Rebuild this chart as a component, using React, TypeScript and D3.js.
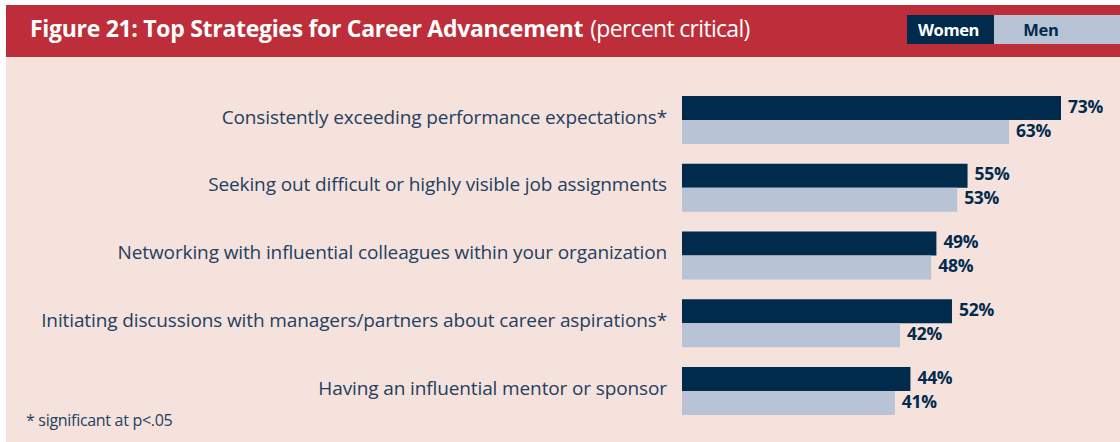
import React from "react";
import * as d3 from "d3";

const categories = [
  "Consistently exceeding performance expectations*",
  "Seeking out difficult or highly visible job assignments",
  "Networking with influential colleagues within your organization",
  "Initiating discussions with managers/partners about career aspirations*",
  "Having an influential mentor or sponsor",
];
const women = [73, 55, 49, 52, 44];
const men = [63, 53, 48, 42, 41];
const seriesNames = ["Women", "Men"];

const W = 1120;
const H = 442;
const RED = "#BE2E3A";
const BG = "#F6E2DD";
const NAVY = "#002B4C";
const LIGHT = "#B8C3D5";
const TEXT = "#22405F";
const FONT = "'Open Sans', 'Noto Sans', sans-serif";

export default function App() {
  const x = d3.scaleLinear().domain([0, 73]).range([682, 1061]);
  const yp = d3.scalePoint().domain(categories).range([96, 367]);
  const barH = 24;

  return (
    <svg
      width={W}
      height={H}
      style={{ position: "absolute", left: 0, top: 0, display: "block" }}
      fontFamily={FONT}
    >
      <rect x={0} y={0} width={W} height={H} fill="#ffffff" />
      <rect x={6} y={57} width={W - 6} height={H - 57} fill={BG} />
      <rect x={6} y={5} width={W - 6} height={52} fill={RED} />
      <text x={30} y={37} fill="#ffffff" fontSize={23}>
        <tspan fontWeight="bold" style={{ letterSpacing: "-0.3px" }}>
          Figure 21: Top Strategies for Career Advancement
        </tspan>
        <tspan dx={7} fontWeight="normal" style={{ letterSpacing: "-0.7px" }}>
          (percent critical)
        </tspan>
      </text>
      {/* legend */}
      <rect x={907} y={15} width={87} height={29} fill={NAVY} />
      <rect x={994} y={15} width={W - 994} height={29} fill={LIGHT} />
      <text x={948.5} y={35.5} textAnchor="middle" fill="#ffffff" fontWeight="bold" fontSize={16.5} style={{ letterSpacing: "-0.4px" }}>
        {seriesNames[0]}
      </text>
      <text x={1041} y={35.5} textAnchor="middle" fill={NAVY} fontWeight="bold" fontSize={16.5} style={{ letterSpacing: "-0.3px" }}>
        {seriesNames[1]}
      </text>

      {categories.map((c, i) => {
        const top = yp(c)!;
        return (
          <g key={c}>
            <text
              x={667}
              y={top + barH - 3}
              dy="0.35em"
              textAnchor="end"
              fill={TEXT}
              fontSize={19}
              style={{ letterSpacing: "-0.12px" }}
            >
              {c}
            </text>
            <rect x={x(0)} y={top} width={x(women[i]) - x(0)} height={barH} fill={NAVY} />
            <rect x={x(0)} y={top + barH} width={x(men[i]) - x(0)} height={barH} fill={LIGHT} />
            <text
              x={x(women[i]) + 7}
              y={top + barH / 2 - 1.5}
              dy="0.35em"
              fill={NAVY}
              fontWeight="bold"
              fontSize={17.5}
              style={{ letterSpacing: "-0.3px" }}
            >
              {women[i]}%
            </text>
            <text
              x={x(men[i]) + 7}
              y={top + barH * 1.5 - 1.5}
              dy="0.35em"
              fill={NAVY}
              fontWeight="bold"
              fontSize={17.5}
              style={{ letterSpacing: "-0.3px" }}
            >
              {men[i]}%
            </text>
          </g>
        );
      })}
      <text x={26} y={426} fill={TEXT} fontSize={16} style={{ letterSpacing: "-0.3px" }}>
        * significant at p&lt;.05
      </text>
    </svg>
  );
}
